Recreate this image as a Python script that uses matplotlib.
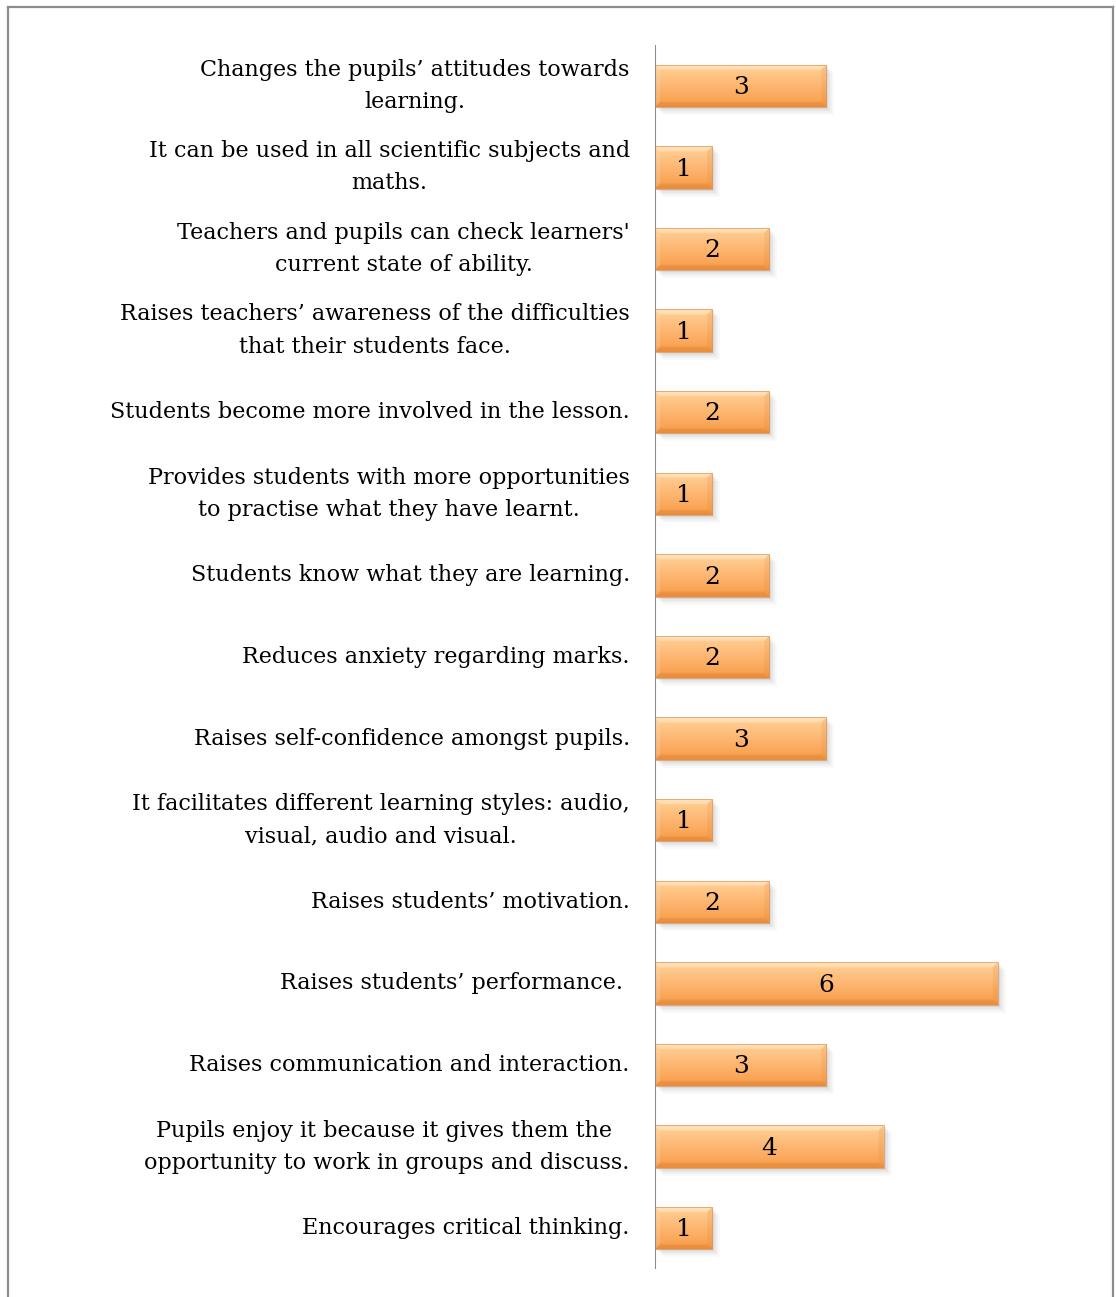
import numpy as np
import matplotlib
matplotlib.use("Agg")
import matplotlib.pyplot as plt
from matplotlib.patches import Rectangle, Polygon
from matplotlib.lines import Line2D
from matplotlib.colors import LinearSegmentedColormap

# Benefits reported, top to bottom
categories = [
    "Changes the pupils\u2019 attitudes towards\nlearning.",
    "It can be used in all scientific subjects and\nmaths.",
    "Teachers and pupils can check learners'\ncurrent state of ability.",
    "Raises teachers\u2019 awareness of the difficulties\nthat their students face.",
    "Students become more involved in the lesson.",
    "Provides students with more opportunities\nto practise what they have learnt.",
    "Students know what they are learning.",
    "Reduces anxiety regarding marks.",
    "Raises self-confidence amongst pupils.",
    "It facilitates different learning styles: audio,\nvisual, audio and visual.",
    "Raises students\u2019 motivation.",
    "Raises students\u2019 performance. ",
    "Raises communication and interaction.",
    "Pupils enjoy it because it gives them the \nopportunity to work in groups and discuss.",
    "Encourages critical thinking.",
]
counts = [3, 1, 2, 1, 2, 1, 2, 2, 3, 1, 2, 6, 3, 4, 1]

W, H = 1116, 1297
fig = plt.figure(figsize=(W / 100, H / 100), dpi=100)
fig.patch.set_facecolor("white")

# outer frame (open at the bottom)
frame_col = "#8c8c8c"
fig.add_artist(Line2D([8 / W, 8 / W], [0, 1 - 7 / H], color=frame_col, lw=1.6))
fig.add_artist(Line2D([1113 / W, 1113 / W], [0, 1 - 7 / H], color=frame_col, lw=1.6))
fig.add_artist(Line2D([8 / W, 1113 / W], [1 - 7 / H, 1 - 7 / H], color=frame_col, lw=1.6))

ax_left, ax_top, ax_bot = 655, 45, 1269
ax_w = 400
ax = fig.add_axes([ax_left / W, 1 - ax_bot / H, ax_w / W, (ax_bot - ax_top) / H])
ax.set_xlim(0, 7)
n = len(categories)
ax.set_ylim(n - 0.5, -0.5)
ax.axis("off")

ax.add_line(Line2D([0, 0], [-0.5, n - 0.5], color="#8c8c8c", lw=1.5, zorder=6))

grad = LinearSegmentedColormap.from_list(
    "bevel",
    [(0.0, "#ffdcaa"), (0.15, "#ffca8c"), (0.5, "#fdb672"),
     (0.85, "#f9a454"), (1.0, "#ef9444")],
)
gimg = np.linspace(0, 1, 64).reshape(-1, 1)

px_x = 7 / ax_w                    # data units per pixel, horizontal
px_y = n / (ax_bot - ax_top)       # data units per pixel, vertical
bev_x, bev_y = 5 * px_x, 5 * px_y

bh = 0.52
font = "DejaVu Serif"
for i, (lab, v) in enumerate(zip(categories, counts)):
    y0 = i - bh / 2
    y1 = y0 + bh
    # soft drop shadow
    for k, a in enumerate([0.10, 0.07, 0.05, 0.03]):
        d = (2 + 2 * k)
        ax.add_patch(Rectangle((d * px_x, y0 + d * px_y), v, bh,
                               facecolor="#5a5a5a", edgecolor="none",
                               alpha=a, zorder=1))
    bar = Rectangle((0, y0), v, bh, facecolor="none", edgecolor="#e0955a",
                    lw=0.5, zorder=4)
    ax.add_patch(bar)
    im = ax.imshow(gimg, cmap=grad, aspect="auto", extent=(0, v, y1, y0),
                   zorder=2, interpolation="bilinear")
    im.set_clip_path(bar)
    # bevelled edges
    top = [(0, y0), (v, y0), (v - bev_x, y0 + bev_y), (bev_x, y0 + bev_y)]
    bot = [(0, y1), (v, y1), (v - bev_x, y1 - bev_y), (bev_x, y1 - bev_y)]
    rgt = [(v, y0), (v, y1), (v - bev_x, y1 - bev_y), (v - bev_x, y0 + bev_y)]
    lft = [(0, y0), (0, y1), (bev_x, y1 - bev_y), (bev_x, y0 + bev_y)]
    ax.add_patch(Polygon(top, closed=True, facecolor="#fff0d8", alpha=0.4,
                         edgecolor="none", zorder=3))
    ax.add_patch(Polygon(bot, closed=True, facecolor="#d6742a", alpha=0.25,
                         edgecolor="none", zorder=3))
    ax.add_patch(Polygon(rgt, closed=True, facecolor="#e08a3e", alpha=0.2,
                         edgecolor="none", zorder=3))
    ax.add_patch(Polygon(lft, closed=True, facecolor="#ffe6c4", alpha=0.2,
                         edgecolor="none", zorder=3))
    ax.text(v / 2, i + 0.02, str(v), ha="center", va="center",
            fontsize=18, family=font, color="black", zorder=5)
    ax.text(-0.44, i, lab, ha="right", va="center", multialignment="center",
            fontsize=16, family=font, color="black", linespacing=1.6)

fig.savefig("out.png", dpi=100, facecolor="white")
